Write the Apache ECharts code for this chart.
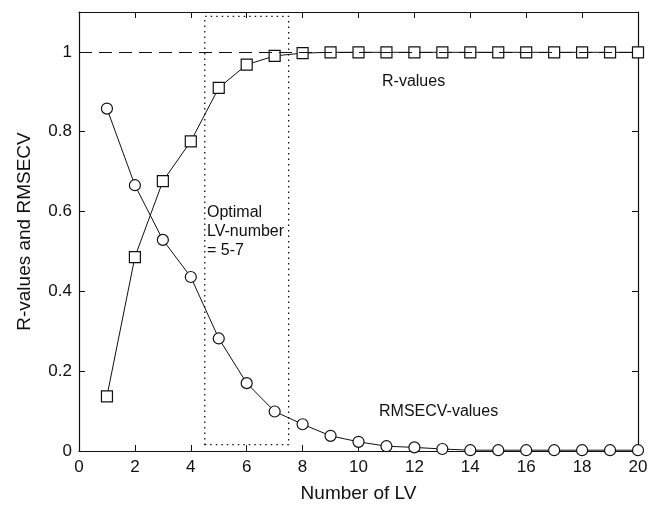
<!DOCTYPE html>
<html>
<head>
<meta charset="utf-8">
<script src="https://cdn.jsdelivr.net/npm/echarts@6/dist/echarts.min.js"></script>
<style>
  html, body { margin: 0; padding: 0; background: #fff; }
  #chart { width: 657px; height: 508px; }
</style>
</head>
<body>
<div id="chart"></div>
<script>
// number of latent variables
const lvNumbers = [1, 2, 3, 4, 5, 6, 7, 8, 9, 10, 11, 12, 13, 14, 15, 16, 17, 18, 19, 20];
const rValues = [0.137, 0.486, 0.676, 0.776, 0.910, 0.968, 0.990, 0.997, 0.999, 0.999,
  0.999, 0.999, 0.999, 0.999, 0.999, 0.999, 0.999, 0.999, 0.999, 0.999];
const rmsecvValues = [0.858, 0.666, 0.529, 0.436, 0.282, 0.170, 0.099, 0.067, 0.038, 0.023,
  0.012, 0.009, 0.005, 0.002, 0.002, 0.002, 0.002, 0.002, 0.002, 0.002];
const optimalRange = [4.5, 7.5];
const optimalBox = [0.016, 1.089];

const font = 'Liberation Sans, Arial, sans-serif';
const black = '#111';

function pairs(xs, ys) {
  return xs.map((x, i) => [x, ys[i]]);
}

const chart = echarts.init(document.getElementById('chart'));

const tickStyle = { inside: true, length: 6, lineStyle: { color: black, width: 1 } };
const lineAxis = { show: true, onZero: false, lineStyle: { color: black, width: 1.2 } };

chart.setOption({
  animation: false,
  backgroundColor: '#fff',
  textStyle: { fontFamily: font },
  grid: { left: 79, right: 19, top: 12, bottom: 55 },
  xAxis: [
    {
      type: 'value', min: 0, max: 20, interval: 2,
      axisLine: lineAxis, axisTick: tickStyle, splitLine: { show: false },
      axisLabel: { color: black, fontSize: 17, margin: 8, fontFamily: font },
      name: 'Number of LV', nameLocation: 'middle', nameGap: 33,
      nameTextStyle: { color: black, fontSize: 19, fontFamily: font }
    },
    {
      type: 'value', position: 'top', min: 0, max: 20, interval: 2,
      axisLine: lineAxis, axisTick: tickStyle, axisLabel: { show: false }, splitLine: { show: false }
    }
  ],
  yAxis: [
    {
      type: 'value', min: 0, max: 1.1, interval: 0.2,
      axisLine: lineAxis, axisTick: tickStyle, splitLine: { show: false },
      axisLabel: {
        color: black, fontSize: 17, margin: 7, fontFamily: font,
        formatter: v => (v > 1.05 ? '' : String(+v.toFixed(1)))
      },
      name: 'R-values and RMSECV', nameLocation: 'middle', nameGap: 45,
      nameTextStyle: { color: black, fontSize: 19, fontFamily: font }
    },
    {
      type: 'value', position: 'right', min: 0, max: 1.1, interval: 0.2,
      axisLine: lineAxis, axisTick: tickStyle, axisLabel: { show: false }, splitLine: { show: false }
    }
  ],
  series: [
    {
      name: 'R-values',
      type: 'line',
      data: pairs(lvNumbers, rValues),
      symbol: 'rect',
      symbolSize: 11,
      lineStyle: { color: black, width: 1 },
      itemStyle: { color: '#fff', borderColor: black, borderWidth: 1.2 },
      z: 3,
      markLine: {
        silent: true,
        symbol: 'none',
        label: { show: false },
        lineStyle: { color: black, type: [13, 7], width: 1 },
        data: [{ yAxis: 1 }]
      },
      markArea: {
        silent: true,
        itemStyle: { color: 'rgba(0,0,0,0)', borderColor: black, borderWidth: 1.3, borderType: [1.5, 4] },
        data: [[
          { coord: [optimalRange[0], optimalBox[0]] },
          { coord: [optimalRange[1], optimalBox[1]] }
        ]]
      }
    },
    {
      name: 'RMSECV-values',
      type: 'line',
      data: pairs(lvNumbers, rmsecvValues),
      symbol: 'circle',
      symbolSize: 11,
      lineStyle: { color: black, width: 1 },
      itemStyle: { color: '#fff', borderColor: black, borderWidth: 1.2 },
      z: 3
    }
  ],
  graphic: [
    {
      type: 'text', left: 207, top: 203,
      style: { text: 'Optimal\nLV-number\n= 5-7', font: '16px ' + font, fill: black, lineHeight: 19 }
    },
    {
      type: 'text', left: 382, top: 74,
      style: { text: 'R-values', font: '16px ' + font, fill: black }
    },
    {
      type: 'text', left: 379, top: 404,
      style: { text: 'RMSECV-values', font: '16px ' + font, fill: black }
    }
  ]
});
</script>
</body>
</html>
